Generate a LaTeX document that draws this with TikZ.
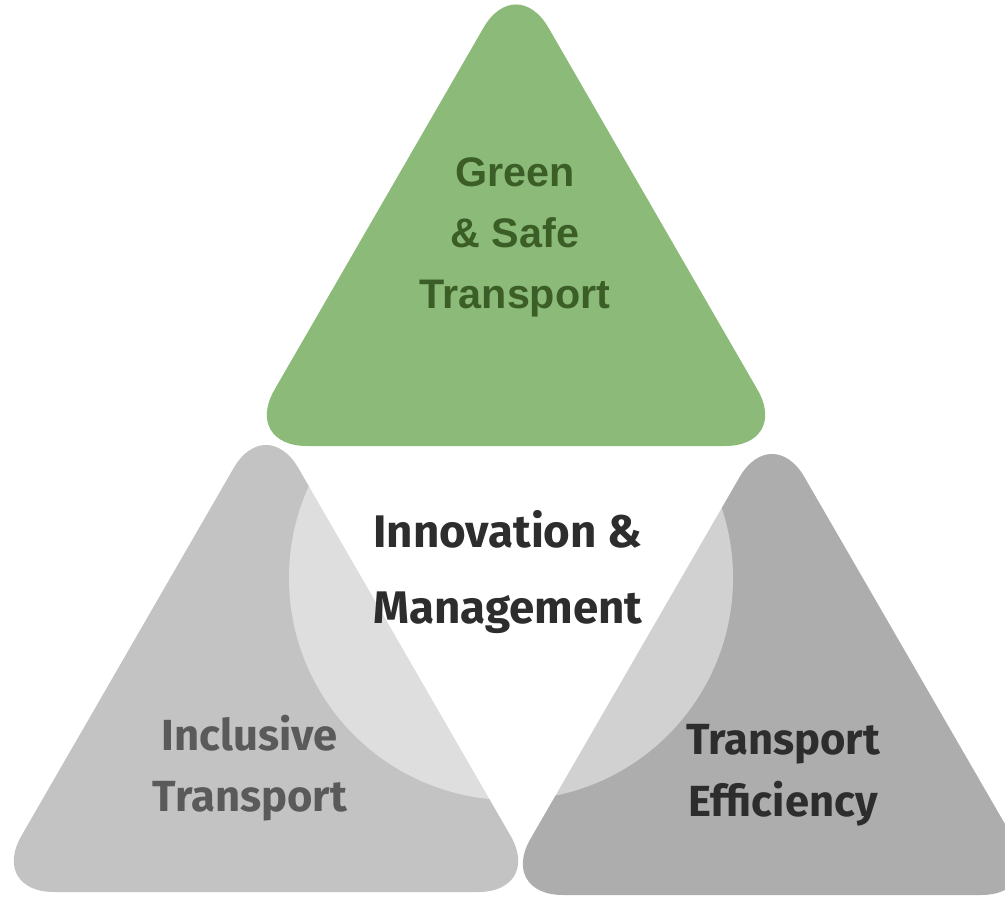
\documentclass[tikz,border=0pt]{standalone}
\usepackage{fontspec}
\setmainfont{Liberation Sans}
\newfontfamily\dinfont{Fira Sans}
\usepackage{tikz}

\definecolor{leafgreen}{HTML}{8BBA79}
\definecolor{leafdark}{HTML}{3A5E26}
\definecolor{lightgrey}{HTML}{C3C3C3}
\definecolor{midgrey}{HTML}{ADADAD}
\definecolor{labelgrey}{HTML}{5A5A5A}
\definecolor{labeldark}{HTML}{2D2D2D}

\begin{document}
\begin{tikzpicture}[
    tri/.style={draw=none, rounded corners=1.3cm},
    pillar/.style={align=center, font=\dinfont\bfseries\fontsize{24.8}{35}\selectfont},
  ]
            \useasboundingbox (0,0) rectangle (20.1,17.92);
            \clip (0,0) rectangle (20.1,17.92);

            % Inclusive transport (bottom-left)
            \fill[tri, lightgrey] (-0.22,0.08) -- (5.32,9.68) -- (10.86,0.08) -- cycle;

            % Transport efficiency (bottom-right)
            \fill[tri, midgrey] (9.96,0.02) -- (15.44,9.5) -- (20.92,0.02) -- cycle;

            % Innovation circle (middle)
            \fill[white, fill opacity=0.45] (10.22,6.36) circle (4.44);

            % Green & safe (top)
            \fill[tri, leafgreen] (4.84,9.0) -- (10.32,18.49) -- (15.8,9.0) -- cycle;

            % Labels
            \node (green) [align=center, text=leafdark, font=\bfseries\fontsize{23.5}{34.6}\selectfont] at (10.3,13.17) {Green\\\& Safe\\Transport};
            \node (innov) [align=center, text=labeldark, font=\dinfont\bfseries\fontsize{26}{43.7}\selectfont] at (10.16,6.48) {Innovation \&\\Management};
            \node (inclusive) [pillar, text=labelgrey] at (5.0,2.56) {Inclusive\\Transport};
            \node (efficiency) [pillar, text=labeldark] at (15.66,2.42) {Transport\\Efficiency};
\end{tikzpicture}
\end{document}
